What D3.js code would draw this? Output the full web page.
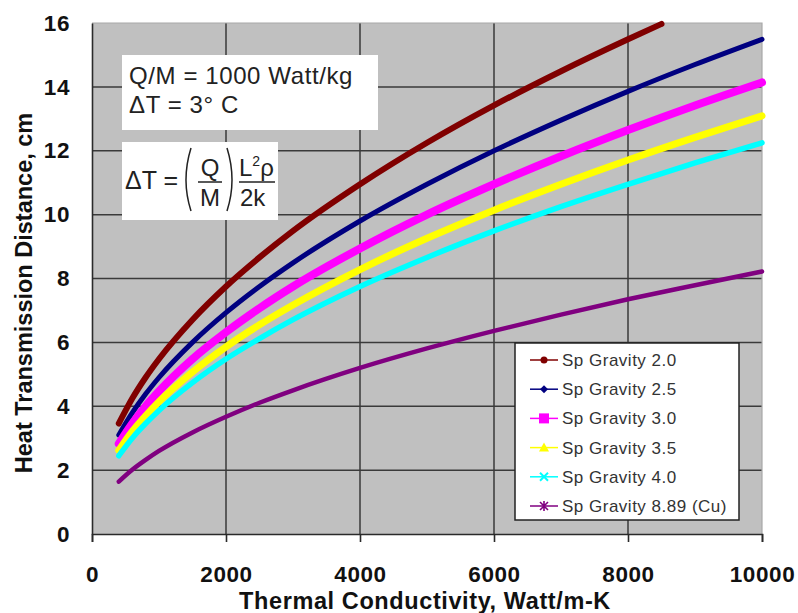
<!DOCTYPE html>
<html>
<head>
<meta charset="utf-8">
<script src="https://cdn.jsdelivr.net/npm/d3@7"></script>
<style>
  body { margin: 0; background: #fff; }
  svg { display: block; font-family: Arial, "Liberation Sans", sans-serif; }
</style>
</head>
<body>
<div class="center"></div>
<script>
// chart data (thermal conductivity vs distance)
const conductivity = [400, 600, 800, 1000, 1500, 2000, 2500, 3000, 4000, 5000, 6000, 7000, 8000, 9000, 10000];
const sg20 = [3.46, 4.24, 4.90, 5.48, 6.71, 7.75, 8.66, 9.49, 10.95, 12.25, 13.42, 14.49, 15.49, 15.97];
const sg25 = [3.10, 3.79, 4.38, 4.90, 6.00, 6.93, 7.75, 8.49, 9.80, 10.95, 12.00, 12.96, 13.86, 14.70, 15.49];
const sg30 = [2.83, 3.46, 4.00, 4.47, 5.48, 6.32, 7.07, 7.75, 8.94, 10.00, 10.95, 11.83, 12.65, 13.42, 14.14];
const sg35 = [2.62, 3.21, 3.70, 4.14, 5.07, 5.86, 6.55, 7.17, 8.28, 9.26, 10.14, 10.95, 11.71, 12.42, 13.09];
const sg40 = [2.45, 3.00, 3.46, 3.87, 4.74, 5.48, 6.12, 6.71, 7.75, 8.66, 9.49, 10.25, 10.95, 11.62, 12.25];
const sg889 = [1.64, 2.01, 2.32, 2.60, 3.18, 3.67, 4.11, 4.50, 5.20, 5.81, 6.36, 6.87, 7.35, 7.79, 8.22];
// the 2.0 curve leaves the top of the chart, last point at ~8500
const sg20x = [400, 600, 800, 1000, 1500, 2000, 2500, 3000, 4000, 5000, 6000, 7000, 8000, 8500];

const seriesNames = ["Sp Gravity 2.0", "Sp Gravity 2.5", "Sp Gravity 3.0", "Sp Gravity 3.5", "Sp Gravity 4.0", "Sp Gravity 8.89 (Cu)"];
const xTicks = [0, 2000, 4000, 6000, 8000, 10000];
const yTicks = [0, 2, 4, 6, 8, 10, 12, 14, 16];

const series = [
  {name: seriesNames[0], xs: sg20x, ys: sg20, color: "#800000", w: 6, marker: "circle"},
  {name: seriesNames[1], xs: conductivity, ys: sg25, color: "#000080", w: 5, marker: "diamond"},
  {name: seriesNames[2], xs: conductivity, ys: sg30, color: "#ff00ff", w: 8, marker: "square"},
  {name: seriesNames[3], xs: conductivity, ys: sg35, color: "#ffff00", w: 7, marker: "triangle"},
  {name: seriesNames[4], xs: conductivity, ys: sg40, color: "#00ffff", w: 5.5, marker: "cross"},
  {name: seriesNames[5], xs: conductivity, ys: sg889, color: "#800080", w: 4.5, marker: "star"}
];

const W = 798, H = 613;
const margin = {top: 23, right: 36, bottom: 79, left: 92};
const width = W - margin.left - margin.right;
const height = H - margin.top - margin.bottom;

const xScale = d3.scaleLinear().domain([0, 10000]).range([0, width]);
const yScale = d3.scaleLinear().domain([0, 16]).range([height, 0]);

const root = d3.select(".center").append("svg")
  .attr("width", W)
  .attr("height", H);

const svg = root.append("g")
  .attr("transform", `translate(${margin.left},${margin.top})`);

// plot background
svg.append("rect")
  .attr("width", width)
  .attr("height", height)
  .style("fill", "#c0c0c0");

// grid
svg.selectAll(".hgrid")
  .data(yTicks.filter(d => d > 0 && d < 16))
  .enter().append("line")
  .attr("x1", 0).attr("x2", width)
  .attr("y1", d => yScale(d)).attr("y2", d => yScale(d))
  .style("stroke", "#3a3a3a").style("stroke-width", 1.5);
svg.selectAll(".vgrid")
  .data(xTicks.filter(d => d > 0 && d < 10000))
  .enter().append("line")
  .attr("y1", 0).attr("y2", height)
  .attr("x1", d => xScale(d)).attr("x2", d => xScale(d))
  .style("stroke", "#3a3a3a").style("stroke-width", 1.5);

// light top / right border
svg.append("path")
  .attr("d", `M0,${yScale(16)}H${xScale(10000)}V${yScale(0)}`)
  .style("fill", "none").style("stroke", "#a8a8a8").style("stroke-width", 1.2);

// axes
const xAxis = d3.axisBottom(xScale).tickValues(xTicks).tickSize(8).tickPadding(24).tickFormat(d3.format("d"));
const gx = svg.append("g")
  .attr("transform", "translate(0," + height + ")")
  .call(xAxis);
const yAxis = d3.axisLeft(yScale).tickValues(yTicks).tickSize(0).tickPadding(22);
const gy = svg.append("g").call(yAxis);

[gx, gy].forEach(g => {
  g.select(".domain").style("stroke", "#2a2a2a").style("stroke-width", 1.6);
  g.selectAll(".tick line").style("stroke", "#2a2a2a").style("stroke-width", 1.6);
  g.selectAll("text")
    .style("font-size", "22.5px")
    .style("font-weight", "700")
    .style("font-family", "Arial, 'Liberation Sans', sans-serif")
    .style("letter-spacing", "0.6px")
    .style("fill", "#111");
});

// curves
const line = d3.line()
  .x(d => xScale(d[0]))
  .y(d => yScale(d[1]))
  .curve(d3.curveMonotoneX);

series.forEach(s => {
  const pts = s.xs.map((x, i) => [x, s.ys[i]]);
  svg.append("path")
    .datum(pts)
    .attr("d", line)
    .style("fill", "none")
    .style("stroke", s.color)
    .style("stroke-width", s.w)
    .style("stroke-linecap", "round")
    .style("stroke-linejoin", "round");
});

// annotation boxes
svg.append("rect")
  .attr("x", 122 - margin.left).attr("y", 55 - margin.top)
  .attr("width", 256).attr("height", 75)
  .style("fill", "#fff");
svg.append("text")
  .attr("x", 129 - margin.left).attr("y", 84 - margin.top)
  .style("font-size", "24px").style("fill", "#222")
  .style("letter-spacing", "0.6px")
  .text("Q/M = 1000 Watt/kg");
svg.append("text")
  .attr("x", 129 - margin.left).attr("y", 113 - margin.top)
  .style("font-size", "24px").style("fill", "#222")
  .style("letter-spacing", "0.6px")
  .text("\u0394T = 3\u00b0 C");

// formula box
const fb = svg.append("g").attr("transform", `translate(${-margin.left},${-margin.top})`);
fb.append("rect")
  .attr("x", 122).attr("y", 142)
  .attr("width", 156).attr("height", 78)
  .style("fill", "#fff");
fb.append("text").attr("x", 125).attr("y", 189)
  .style("font-size", "25px").style("fill", "#222")
  .text("\u0394T =");
fb.append("path")
  .attr("d", "M191,148 Q181,180 191,211")
  .style("fill", "none").style("stroke", "#222").style("stroke-width", 1.5);
fb.append("path")
  .attr("d", "M227,148 Q237,180 227,211")
  .style("fill", "none").style("stroke", "#222").style("stroke-width", 1.5);
fb.append("text").attr("x", 210).attr("y", 176).attr("text-anchor", "middle")
  .style("font-size", "24px").style("fill", "#222").text("Q");
fb.append("text").attr("x", 210).attr("y", 206).attr("text-anchor", "middle")
  .style("font-size", "24px").style("fill", "#222").text("M");
fb.append("line").attr("x1", 198).attr("x2", 222).attr("y1", 182).attr("y2", 182)
  .style("stroke", "#222").style("stroke-width", 1.5);
const lr = fb.append("text").attr("x", 239).attr("y", 176)
  .style("font-size", "24px").style("fill", "#222");
lr.append("tspan").text("L");
lr.append("tspan").attr("dy", -10).style("font-size", "14px").text("2");
lr.append("tspan").attr("dy", 10).text("\u03c1");
fb.append("text").attr("x", 240).attr("y", 206)
  .style("font-size", "24px").style("fill", "#222").text("2k");
fb.append("line").attr("x1", 239).attr("x2", 275).attr("y1", 182).attr("y2", 182)
  .style("stroke", "#222").style("stroke-width", 1.5);

// legend
const lg = root.append("g");
lg.append("rect")
  .attr("x", 515).attr("y", 343)
  .attr("width", 224).attr("height", 177)
  .style("fill", "#fff").style("stroke", "#222").style("stroke-width", 1.5);

function drawMarker(g, type, cx, cy, color) {
  if (type === "circle") {
    g.append("circle").attr("cx", cx).attr("cy", cy).attr("r", 3.5).style("fill", color);
  } else if (type === "diamond") {
    g.append("path").attr("d", `M${cx},${cy - 4}L${cx + 4},${cy}L${cx},${cy + 4}L${cx - 4},${cy}Z`).style("fill", color);
  } else if (type === "square") {
    g.append("rect").attr("x", cx - 5).attr("y", cy - 5).attr("width", 10).attr("height", 10).style("fill", color);
  } else if (type === "triangle") {
    g.append("path").attr("d", `M${cx},${cy - 5}L${cx + 5},${cy + 4}L${cx - 5},${cy + 4}Z`).style("fill", color);
  } else if (type === "cross") {
    g.append("path").attr("d", `M${cx - 4},${cy - 4}L${cx + 4},${cy + 4}M${cx + 4},${cy - 4}L${cx - 4},${cy + 4}`)
      .style("stroke", color).style("stroke-width", 2);
  } else {
    g.append("path").attr("d", `M${cx - 4},${cy - 4}L${cx + 4},${cy + 4}M${cx + 4},${cy - 4}L${cx - 4},${cy + 4}M${cx},${cy - 5}V${cy + 5}`)
      .style("stroke", color).style("stroke-width", 1.6);
  }
}

series.forEach((s, i) => {
  const y = 360 + i * 29.2;
  lg.append("line")
    .attr("x1", 530).attr("x2", 558).attr("y1", y).attr("y2", y)
    .style("stroke", s.color).style("stroke-width", 1.5);
  drawMarker(lg, s.marker, 544, y, s.color);
  lg.append("text")
    .attr("x", 562).attr("y", y + 6)
    .style("font-size", "17px")
    .style("letter-spacing", "0.5px")
    .style("fill", "#333")
    .text(s.name);
});

// axis titles
root.append("text")
  .attr("x", 425).attr("y", 609)
  .attr("text-anchor", "middle")
  .style("font-size", "23.5px").style("font-weight", "700")
  .style("letter-spacing", "0.6px")
  .style("fill", "#111")
  .text("Thermal Conductivity, Watt/m-K");

root.append("text")
  .attr("transform", "rotate(-90)")
  .attr("x", -293).attr("y", 32)
  .attr("text-anchor", "middle")
  .style("font-size", "23.5px").style("font-weight", "700")
  .style("fill", "#111")
  .text("Heat Transmission Distance, cm");
</script>
</body>
</html>
